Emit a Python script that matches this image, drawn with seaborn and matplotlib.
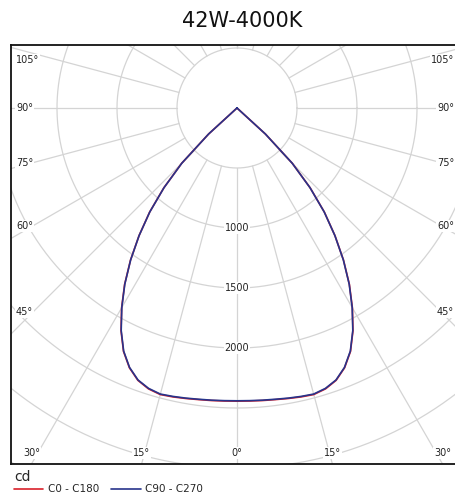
import numpy as np
import pandas as pd
import matplotlib
matplotlib.use("Agg")
import matplotlib.pyplot as plt
import seaborn as sns

# Luminous intensity (cd) against gamma angle from nadir (deg)
gamma_deg = [0, 2.5, 5, 7.5, 10, 12.5, 15, 17.5, 20, 22.5, 25, 27.5, 30,
             32.5, 35, 37.5, 40, 42.5, 45, 47.5, 50, 60, 70, 80, 90]
c0_c180 = [2443, 2444, 2447, 2451, 2458, 2466, 2472, 2454, 2415, 2343, 2238,
           2093, 1923, 1743, 1547, 1341, 1133, 903, 652, 322, 0, 0, 0, 0, 0]
c90_c270 = [2440, 2441, 2444, 2448, 2455, 2462, 2468, 2450, 2412, 2340, 2235,
            2090, 1920, 1740, 1545, 1340, 1130, 900, 650, 320, 0, 0, 0, 0, 0]
plane_names = ["C0 - C180", "C90 - C270"]
plane_colors = ["#d9202a", "#27348b"]

ring_values = [500, 1000, 1500, 2000, 2500, 3000, 3500, 4000]
ring_labels = [1000, 1500, 2000]
spoke_angles = list(range(-180, 181, 15))
side_labels = [105, 90, 75, 60, 45]
bottom_labels = [-30, -15, 0, 15, 30]

sns.set_style("white")
plt.rcParams["font.family"] = ["DejaVu Sans"]

W, H, DPI = 456, 494, 100
fig = plt.figure(figsize=(W / DPI, H / DPI), dpi=DPI)

# frame in pixels: left 11, right 464, top 45, bottom 464
px_left, px_right, px_top, px_bot = 11, 464, 45, 464
ax = fig.add_axes([px_left / W, (H - px_bot) / H,
                   (px_right - px_left) / W, (px_bot - px_top) / H])

scale = 0.12  # px per cd
cx, cy = 237, 108  # pole in pixels
xmin = -(cx - px_left) / scale
xmax = (px_right - cx) / scale
ymax = (cy - px_top) / scale
ymin = -(px_bot - cy) / scale
ax.set_xlim(xmin, xmax)
ax.set_ylim(ymin, ymax)
ax.set_aspect("equal", adjustable="box")

grid_kw = dict(color="#d4d4d4", lw=0.9, zorder=1)
t = np.linspace(0, 2 * np.pi, 720)
for r in ring_values:
    ax.plot(r * np.cos(t), r * np.sin(t), **grid_kw)
for a in spoke_angles:
    ar = np.radians(a)
    ax.plot([500 * np.sin(ar), 5000 * np.sin(ar)],
            [-500 * np.cos(ar), -5000 * np.cos(ar)], **grid_kw)

lab_kw = dict(fontsize=7, color="#222222", zorder=3,
              bbox=dict(facecolor="white", edgecolor="none", pad=0.6))
for r in ring_labels:
    ax.text(0, -r, f"{r}", ha="center", va="center", **lab_kw)

# angle labels along the frame (right ones kept inside the visible figure)
x_probe = (cx - px_left - 22) / scale
x_right_edge = (W - 2 - cx) / scale
for a in side_labels:
    y = -x_probe / np.tan(np.radians(a))
    y = min(y, ymax - 125)
    ax.text(xmin + 5 / scale, y, f"{a}°", ha="left", va="center", **lab_kw)
    ax.text(x_right_edge, y, f"{a}°", ha="right", va="center", **lab_kw)
y_bot = ymin + 11 / scale
for a in bottom_labels:
    x = -ymin * np.tan(np.radians(a))
    x = min(x, x_right_edge - 60)
    ax.text(x, y_bot, f"{abs(a)}°", ha="center", va="center", **lab_kw)

# polar curves converted to plane coordinates
rows = []
for name, vals in zip(plane_names, [c0_c180, c90_c270]):
    g = np.array(gamma_deg, dtype=float)
    v = np.array(vals, dtype=float)
    ang = np.concatenate([-g[::-1], g[1:]])
    val = np.concatenate([v[::-1], v[1:]])
    for a, iv in zip(ang, val):
        ar = np.radians(a)
        rows.append({"x": iv * np.sin(ar), "y": -iv * np.cos(ar),
                     "plane": name})
df = pd.DataFrame(rows)

sns.lineplot(data=df, x="x", y="y", hue="plane", palette=plane_colors,
             sort=False, estimator=None, lw=1.2, ax=ax, zorder=4)

ax.set_xticks([])
ax.set_yticks([])
ax.set_xlabel("")
ax.set_ylabel("")
for s in ax.spines.values():
    s.set_color("#111111")
    s.set_linewidth(1.3)

handles, labels = ax.get_legend_handles_labels()
ax.legend_.remove()
leg = fig.legend(handles, labels, title="cd", ncol=2, frameon=False,
                 loc="upper left", bbox_to_anchor=(7 / W, 1 - 463 / H),
                 fontsize=7.5, title_fontsize=10, handlelength=2.8,
                 handletextpad=0.4, columnspacing=1.2, borderpad=0.2,
                 labelspacing=0.0)
leg._legend_box.align = "left"
for h in leg.legend_handles:
    h.set_linewidth(1.2)

fig.text(242 / W, 1 - 21 / H, "42W-4000K", ha="center", va="center",
         fontsize=15, color="#111111")

fig.savefig("out.png", dpi=DPI)
